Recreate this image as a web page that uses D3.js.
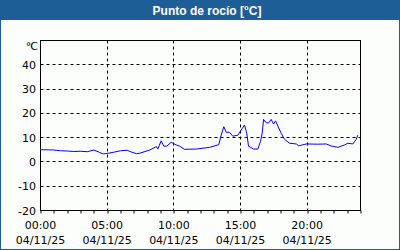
<!DOCTYPE html>
<html>
  <head>
    <script src="https://d3js.org/d3.v7.min.js"></script>
    <style>
      body { margin: 0; background: #fff; }
      text { font-family: "DejaVu Sans", sans-serif; }
    </style>
    <title>Punto de rocio</title>
  </head>
  <body>
    <svg id="chart" width="400" height="250"></svg>
    <script>
      var title = "Punto de rocío [°C]";
      var unit = "°C";
      var yTicks = [-20, -10, 0, 10, 20, 30, 40];
      var xTicks = [0, 5, 10, 15, 20];
      var xTickLabels = ["00:00", "05:00", "10:00", "15:00", "20:00"];
      var dateLabel = "04/11/25";

      // hours since midnight, dew point
      var hours = [
        0, 0.5, 1, 1.5, 2, 2.5, 3, 3.5, 4, 4.4, 4.7, 5, 5.5, 6, 6.5, 6.7, 7.2,
        7.45, 8.2, 8.68, 8.8, 9.05, 9.25, 9.47, 9.8, 10.18, 10.43, 10.8, 11.68,
        12.68, 13.37, 13.55, 13.75, 13.93, 14.18, 14.42, 14.8, 15.05, 15.3,
        15.47, 15.6, 15.98, 16.3, 16.5, 16.63, 16.73, 16.93, 17.12, 17.3, 17.48,
        17.63, 17.8, 18.05, 18.3, 18.68, 19.18, 19.37, 19.63, 19.93, 20.78,
        21.43, 21.8, 22.3, 22.8, 23.05, 23.42, 23.68, 23.8
      ];
      var dewPoint = [
        5.0, 5.0, 4.9, 4.6, 4.5, 4.3, 4.4, 4.2, 4.9, 4.0, 3.3, 3.5, 4.0, 4.6,
        4.8, 4.3, 3.4, 3.6, 4.9, 6.3, 5.3, 8.7, 6.5, 6.5, 8.1, 7.0, 6.5, 5.2,
        5.3, 6.0, 7.1, 11.0, 14.5, 12.2, 12.2, 10.6, 11.0, 13.1, 15.2, 11.8,
        6.5, 5.3, 5.3, 8.5, 11.9, 17.5, 16.1, 16.1, 17.5, 15.6, 16.9, 14.8,
        11.8, 9.3, 7.7, 7.4, 6.6, 7.0, 7.4, 7.3, 7.4, 6.6, 6.0, 7.0, 7.7, 7.4,
        9.3, 11.0
      ];

      var blue = "#1e5e96";
      var svg = d3.select("#chart");

      svg.append("rect").attr("x", 0).attr("y", 0).attr("width", 400).attr("height", 250)
        .attr("fill", "#fcfefc");
      svg.append("rect").attr("x", 0).attr("y", 0).attr("width", 400).attr("height", 20)
        .attr("fill", blue);
      svg.append("rect").attr("x", 0.5).attr("y", 0.5).attr("width", 399).attr("height", 249)
        .attr("fill", "none").attr("stroke", blue);

      svg.append("text")
        .attr("x", 207).attr("y", 14.5)
        .attr("text-anchor", "middle")
        .style("font-family", "'Liberation Sans', sans-serif")
        .style("font-size", "12px").style("font-weight", "bold")
        .attr("fill", "#fff")
        .text(title);

      var plotL = 40.5, plotR = 360.5, plotT = 40.5, plotB = 210.5;

      var x = d3.scaleLinear().domain([0, 24]).range([plotL, plotR]);
      var y = d3.scaleLinear().domain([-20, 50]).range([plotB, plotT]);

      function px(v) { return Math.round(v - 0.5) + 0.5; }

      // grid
      var grid = svg.append("g");
      grid.selectAll(".hg").data(yTicks.slice(1)).enter().append("line")
        .attr("x1", plotL).attr("x2", plotR)
        .attr("y1", d => px(y(d))).attr("y2", d => px(y(d)))
        .attr("stroke", "#000").attr("stroke-dasharray", "3,3");
      grid.selectAll(".vg").data(xTicks.slice(1)).enter().append("line")
        .attr("x1", d => px(x(d))).attr("x2", d => px(x(d)))
        .attr("y1", plotT).attr("y2", plotB)
        .attr("stroke", "#000").attr("stroke-dasharray", "3,3");

      // hourly ticks under the plot
      var xAxis = d3.axisBottom(x).tickValues(d3.range(0, 25)).tickSize(3).tickFormat("");
      var gx = svg.append("g").attr("transform", "translate(0," + plotB + ")").call(xAxis);
      gx.select(".domain").remove();
      gx.selectAll("line").attr("stroke", "#000")
        .attr("transform", function (d) { return "translate(" + (px(x(d)) - x(d)) + ",0)"; });

      // frame
      svg.append("rect")
        .attr("x", plotL).attr("y", plotT)
        .attr("width", plotR - plotL).attr("height", plotB - plotT)
        .attr("fill", "none").attr("stroke", "#000");

      // y labels
      svg.selectAll(".yl").data(yTicks).enter().append("text")
        .attr("x", 36).attr("y", d => y(d) + 4)
        .attr("text-anchor", "end")
        .style("font-size", "11px").attr("fill", "#000")
        .text(d => d);
      svg.append("text")
        .attr("x", 37).attr("y", 50)
        .attr("text-anchor", "end")
        .style("font-size", "11px").attr("fill", "#000")
        .style("letter-spacing", "-1px")
        .text(unit);

      // x labels
      svg.selectAll(".xl").data(xTicks).enter().append("text")
        .attr("x", d => x(d)).attr("y", 229)
        .attr("text-anchor", "middle")
        .style("font-size", "11px").attr("fill", "#000")
        .text((d, i) => xTickLabels[i]);
      svg.selectAll(".xd").data(xTicks).enter().append("text")
        .attr("x", d => x(d)).attr("y", 244)
        .attr("text-anchor", "middle")
        .style("font-size", "11px").attr("fill", "#000")
        .text(dateLabel);

      // series
      var pts = hours.map((h, i) => [h, dewPoint[i]]);
      var line = d3.line().x(d => x(d[0])).y(d => y(d[1]));
      svg.append("path")
        .attr("d", line(pts))
        .attr("fill", "none")
        .attr("stroke", "#0000ff")
        .attr("stroke-width", 1);
    </script>
  </body>
</html>
